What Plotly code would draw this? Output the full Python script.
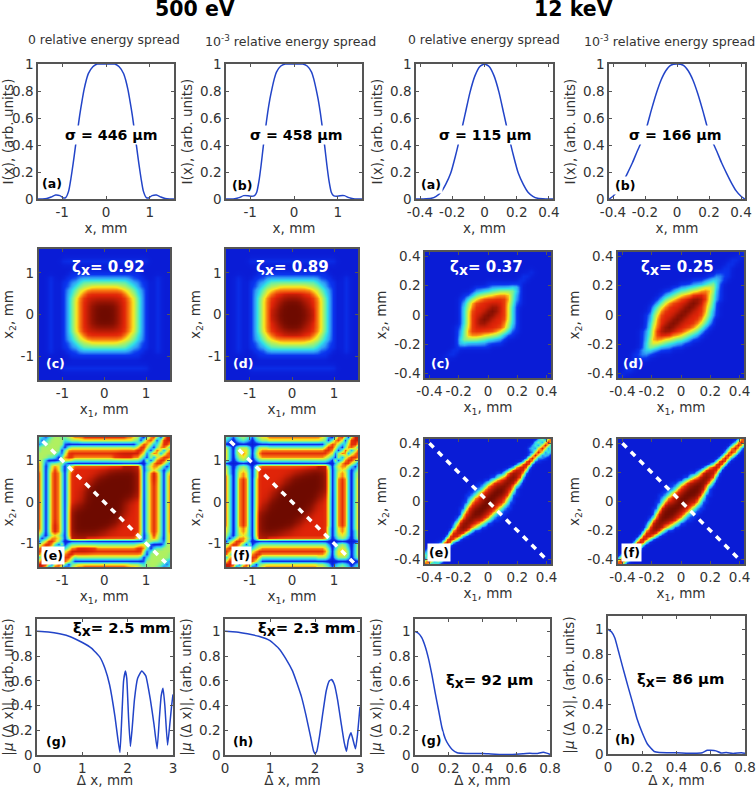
import numpy as np
import plotly.graph_objects as go

W, H = 756, 788

# --- line panels ---
A500_X = [-1.55, -1.45, -1.35, -1.25, -1.15, -1.05, -0.97, -0.92, -0.85, -0.8, -0.75, -0.7, -0.65, -0.6, -0.55, -0.5,
          -0.45, -0.4, -0.3, -0.2, -0.1, 0, 0.1, 0.2, 0.3, 0.4, 0.45, 0.5, 0.55, 0.6, 0.65, 0.7, 0.75, 0.8, 0.85,
          0.92, 0.97, 1.05, 1.15, 1.25, 1.35, 1.45, 1.55]
A500_Y = [0, 0, 0.003, 0.015, 0.03, 0.025, 0.008, 0.01, 0.06, 0.15, 0.26, 0.38, 0.5, 0.62, 0.72, 0.81,
          0.88, 0.93, 0.98, 1, 1, 1, 1, 1, 0.98, 0.93, 0.88, 0.81, 0.72, 0.62, 0.5, 0.38, 0.26, 0.15, 0.06,
          0.01, 0.008, 0.025, 0.03, 0.015, 0.003, 0, 0]
B500_X = [-1.55, -1.45, -1.35, -1.25, -1.15, -1.05, -0.97, -0.9, -0.85, -0.8, -0.75, -0.7, -0.65, -0.6, -0.55, -0.5,
          -0.45, -0.4, -0.3, -0.2, -0.1, 0, 0.1, 0.2, 0.3, 0.4, 0.45, 0.5, 0.55, 0.6, 0.65, 0.7, 0.75, 0.8, 0.85,
          0.9, 0.97, 1.05, 1.15, 1.25, 1.35, 1.45, 1.55]
B500_Y = [0, 0, 0.002, 0.01, 0.025, 0.025, 0.02, 0.025, 0.05, 0.13, 0.25, 0.39, 0.52, 0.64, 0.74, 0.82,
          0.89, 0.94, 0.985, 1, 1, 1, 1, 1, 0.985, 0.94, 0.89, 0.82, 0.74, 0.64, 0.52, 0.39, 0.25, 0.13, 0.05,
          0.025, 0.02, 0.025, 0.025, 0.01, 0.002, 0, 0]
A12_X = [-0.425, -0.38, -0.33, -0.3, -0.27, -0.24, -0.21, -0.18, -0.15, -0.12, -0.09, -0.06, -0.03, 0,
         0.03, 0.06, 0.09, 0.12, 0.15, 0.18, 0.21, 0.24, 0.27, 0.3, 0.33, 0.38, 0.425]
A12_Y = [0, 0, 0.005, 0.02, 0.05, 0.11, 0.19, 0.32, 0.47, 0.63, 0.79, 0.91, 0.98, 1,
         0.98, 0.91, 0.79, 0.63, 0.47, 0.32, 0.19, 0.11, 0.05, 0.02, 0.005, 0, 0]
B12_X = [-0.424, -0.4, -0.37, -0.34, -0.31, -0.278, -0.25, -0.22, -0.19, -0.16, -0.13, -0.1, -0.07, -0.04, 0,
         0.04, 0.07, 0.1, 0.13, 0.16, 0.19, 0.22, 0.25, 0.278, 0.31, 0.34, 0.37, 0.4, 0.424]
B12_Y = [0, 0.02, 0.06, 0.12, 0.19, 0.27, 0.35, 0.43, 0.53, 0.66, 0.78, 0.88, 0.95, 0.99, 1,
         0.99, 0.95, 0.88, 0.78, 0.66, 0.53, 0.43, 0.35, 0.27, 0.19, 0.12, 0.06, 0.02, 0]

G500_X = [0, 0.25, 0.5, 0.75, 1, 1.2, 1.39, 1.5, 1.6, 1.72, 1.78, 1.83, 1.87, 1.91, 1.95, 1.98, 2.02, 2.06, 2.1, 2.15,
          2.22, 2.31, 2.4, 2.5, 2.58, 2.65, 2.7, 2.74, 2.78, 2.82, 2.88, 2.93, 2.97, 3]
G500_Y = [1, 0.995, 0.98, 0.955, 0.91, 0.865, 0.79, 0.7, 0.57, 0.31, 0.14, 0.02, 0.3, 0.6, 0.68, 0.62, 0.3, 0.07, 0.22, 0.45,
          0.62, 0.68, 0.64, 0.45, 0.25, 0.05, 0.3, 0.48, 0.54, 0.4, 0.08, 0.25, 0.4, 0.49]
H500_X = [0, 0.25, 0.5, 0.75, 1, 1.2, 1.35, 1.5, 1.6, 1.7, 1.8, 1.9, 1.97, 2, 2.04, 2.1, 2.17, 2.25, 2.32, 2.37, 2.43,
          2.5, 2.58, 2.65, 2.7, 2.74, 2.8, 2.84, 2.9, 2.94, 3]
H500_Y = [1, 0.995, 0.98, 0.96, 0.925, 0.86, 0.78, 0.68, 0.58, 0.47, 0.32, 0.15, 0.03, 0.01, 0.03, 0.15, 0.33, 0.52, 0.6, 0.61, 0.57,
          0.45, 0.26, 0.1, 0.03, 0.12, 0.18, 0.13, 0.05, 0.15, 0.39]
G12_X = [0, 0.02, 0.04, 0.06, 0.08, 0.1, 0.12, 0.14, 0.16, 0.18, 0.2, 0.22, 0.25, 0.3, 0.4, 0.45, 0.5, 0.55, 0.6, 0.64,
         0.68, 0.72, 0.76, 0.78, 0.8]
G12_Y = [1, 0.985, 0.95, 0.88, 0.78, 0.65, 0.5, 0.36, 0.22, 0.13, 0.08, 0.045, 0.018, 0.012, 0.012, 0.008, 0.005, 0.004, 0.006, 0.01,
         0.014, 0.012, 0.022, 0.015, 0.005]
H12_X = [0, 0.02, 0.04, 0.06, 0.085, 0.115, 0.144, 0.17, 0.2, 0.23, 0.27, 0.3, 0.4, 0.5, 0.55, 0.58, 0.6, 0.63, 0.66, 0.69,
         0.73, 0.78, 0.8]
H12_Y = [1, 0.98, 0.93, 0.83, 0.7, 0.55, 0.41, 0.28, 0.17, 0.08, 0.02, 0.012, 0.01, 0.006, 0.01, 0.03, 0.03, 0.025, 0.008, 0.012,
         0.005, 0.01, 0.006]

# --- maps, one digit per cell read by eye (0 = blue ... 9 = dark red) ---
# 500 eV (c), (d): upper left quarter
C500 = ["00000000000000000", "00000000000000000", "00000000000000000",
        "00000011111111111", "00000000000000000", "00000000000000000",
        "00000000111111111", "00010001112222222", "00010011223444444",
        "00010011234556666", "00010012346677777", "00010012356788888",
        "00010012467888888", "00010012467889999", "00010012467889999",
        "00010012467889999", "00010012467889999"]
D500 = ["00000000000000000", "00000000000000000", "00000000000000000",
        "00000011111111111", "00000000000000000", "00000000000000000",
        "00000000111111111", "00010001112222222", "00010011223444444",
        "00010011234556666", "00010012346677777", "00010012356788888",
        "00010012467888999", "00010012467889999", "00010012467889999",
        "00010012467899999", "00010012467899999"]
# 500 eV (e), (f): upper half, the rest follows by turning it half round
E500 = ["43134554456 77788888888888887765 2047850689",
        "41345555345 55666666666666666654 0478605898",
        "13455555100 00000000000000000003 6875236886",
        "45555553045 55555555555555555546 8863047862",
        "45555550477 77777777777777777778 8740486158",
        "55555531588 88888888888888999999 7615871578",
        "55544304788 77777777777788888877 5306157887",
        "55200015665 44444444444444444444 3060478864",
        "75134455200 00000000000000000000 0025788640",
        "75036763056 88888888888888899999 5046775304",
        "75046863057 88888888888999999999 6035653035",
        "85047874068 88888888899999999999 6047974057",
        "85047874068 88888889999999999999 6047974058",
        "85047874068 88888899999999999999 6047974058",
        "85047874068 88888999999999999999 6047874058",
        "85047874068 88889999999999999999 6047874058",
        "85047874068 88889999999999999999 6047874058",
        "85047874068 88899999999999999999 6047874058",
        "85047874068 88899999999999999999 6047874058",
        "85047874068 88899999999999999988 6047874058",
        "85047874068 88899999999999998888 6047874058"]
F500 = ["43134543145 66777777777777777765 2047850689",
        "32023432034 55666666666666666654 0478605898",
        "00000000000 00000000000000000003 6875236886",
        "53035553035 55444444444444444446 8863047862",
        "63046664046 77777777777777777778 8740486158",
        "63046764057 88888888888888888888 7615871578",
        "63035653046 77777777777777777776 5306157887",
        "63024542024 44444444444444444444 3060478864",
        "00000000000 00000000000000000000 0025788640",
        "53024542047 88888888888888888999 5046775304",
        "63035653058 88888888888888999999 6035653035",
        "63036763058 88888888888999999999 6036763046",
        "74036763058 88888888899999999999 6036763046",
        "74037873068 88888888999999999999 6037873047",
        "74037873068 88888889999999999999 6037873047",
        "74037873068 88888899999999999999 6037873047",
        "74037873068 88888999999999999999 6037873047",
        "74037873068 88889999999999999999 6037873047",
        "74037873068 88899999999999999988 6037873047",
        "74037873068 88899999999999999988 6037873047",
        "74037873068 88999999999999999888 6037873047"]
# 12 keV (c), (d): upper half
C12 = ["000000000000000000000000000000000", "000000000000000000000000000000000",
       "000000000000000000000000000000000", "000000000000000000000000000000000",
       "000000000000000000000000000000000", "000000000000000000000000000100000",
       "000000000000000000000000011000000", "000000000000000000000000110000000",
       "00000000 000000001111111110 0000000", "00000000 000001111222223310 0000000",
       "00000000 000012233445555310 0000000", "00000000 001124556677774210 0000000",
       "00000000 011356788888874210 0000000", "00000000 012578888888864110 0000000",
       "00000000 013578888998863100 0000000", "00000000 013688889998863100 0000000",
       "00000000 013688899988863100 0000000"]
D12 = ["000000000000000000000000000000001", "000000000000000000000000000000010",
       "000000000000000000000000000001100", "000000000000000000000000000011000",
       "000000000000000000000000000110000", "0000000000000000000000000 1111 0000",
       "00000000000000000000000 112211 0000", "0000000000000000000 111223321 00000",
       "0000000000000000 11122234531 000000", "00000000000000 1122334566531 000000",
       "000000000000 112344566777521 000000", "00000000000 1234567788886421 000000",
       "0000000000 12456788899986421 000000", "000000000 12467888899987631 0000000",
       "00000000 124678888999887531 0000000", "00000000 135788889998887421 0000000",
       "0000000 1246888899988886421 0000000"]
# 12 keV (e), (f): upper half
E12 = ["000000000000000000000000000000000000 25168",
       "00000000000000000000000000000000000 351696",
       "0000000000000000000000000000000000 2416961",
       "000000000000000000000000000000000 23169615",
       "000000000000000000000000000000000 11696142",
       "000000000000000000000000000000000 16961320",
       "00000000000000000000000000000000 179612100",
       "0000000000000000000000000000000 2897110000",
       "00000000000000000000000000000 158981000000",
       "000000000000000000000000000 12789820000000",
       "0000000000000000000000000 1258898500000000",
       "00000000000000000000000 113789987100000000",
       "000000000000000000000 11367899982000000000",
       "0000000000000000000 1135788999851000000000",
       "00000000000000000 11246888999872 0000000000",
       "0000000000000000 112478899998731 0000000000",
       "000000000000000 112478899998861 00000000000",
       "00000000000000 1125788999998731 00000000000",
       "0000000000000 11247889999988511 00000000000",
       "0000000000000 1247889999988631 000000000000",
       "000000000000 11478899999887411 000000000000"]
F12 = ["00000000000000000000000000000000000000 278",
       "0000000000000000000000000000000000000 2797",
       "000000000000000000000000000000000000 27972",
       "00000000000000000000000000000000000 279720",
       "0000000000000000000000000000000000 2797200",
       "000000000000000000000000000000000 27972000",
       "00000000000000000000000000000000 279720000",
       "0000000000000000000000000000000 3898200000",
       "00000000000000000000000000000 148983000000",
       "000000000000000000000000000 13789830000000",
       "0000000000000000000000000 1258898500000000",
       "00000000000000000000000 113689987100000000",
       "000000000000000000000 11367899982000000000",
       "0000000000000000000 1135788999851000000000",
       "00000000000000000 11246889999872 0000000000",
       "0000000000000000 112478899999731 0000000000",
       "000000000000000 112478899999861 00000000000",
       "00000000000000 1125788999999731 00000000000",
       "0000000000000 11247889999998511 00000000000",
       "0000000000000 1247889999998631 000000000000",
       "000000000000 11478899999887411 000000000000"]

DIAG_500 = [-1.47, 1.47]
DIAG_12 = [-0.4, 0.4]

JET = [[0 / 9, "#0a1cd6"], [1 / 9, "#0a34ee"], [2 / 9, "#30a0f8"], [3 / 9, "#30e0e8"], [4 / 9, "#70f0a0"],
       [5 / 9, "#b0f060"], [6 / 9, "#f8e820"], [7 / 9, "#f87810"], [8 / 9, "#e02408"], [9 / 9, "#6e0a00"]]

LINE_BLUE = "#2244c8"
AXIS_GREY = "#555555"
TEXT = "#333333"
FONT = "DejaVu Sans"

TICK_500 = ([-1, 0, 1], ["-1", "0", "1"])
TICK_12 = ([-0.4, -0.2, 0, 0.2, 0.4], ["-0.4", "-0.2", "0", "0.2", "0.4"])
TICK_Y = ([0, 0.2, 0.4, 0.6, 0.8, 1], ["0", "0.2", "0.4", "0.6", "0.8", "1"])
TICK_D500 = ([0, 1, 2, 3], ["0", "1", "2", "3"])
TICK_D12 = ([0, 0.2, 0.4, 0.6, 0.8], ["0", "0.2", "0.4", "0.6", "0.8"])

fig = go.Figure()
axis_count = 0
notes = []


def digits(rows):
    return np.array([[int(c) for c in r.replace(" ", "")] for r in rows]) / 9


def blur(z, w=4):
    # light 1-w-1 pass along both directions
    p = np.pad(z, 1, mode="edge")
    p = (p[:-2, :] + w * p[1:-1, :] + p[2:, :]) / (w + 2)
    return (p[:, :-2] + w * p[:, 1:-1] + p[:, 2:]) / (w + 2)


def soften(z, passes, w):
    # the cell digits are coarse, so ease the steps; the red-to-dark part gets extra passes
    z = blur(z, w)
    red = 8 / 9
    hi = np.maximum(z, red)
    for _ in range(passes):
        hi = blur(hi)
    return np.minimum(z, red) + hi - red


def from_quarter(rows):
    q = digits(rows)
    top = np.hstack([q, q[:, -2::-1]])
    return soften(np.vstack([top, top[-2::-1]]), 3, 4)


def from_half(rows, passes=4, w=4):
    top = digits(rows)
    return soften(np.vstack([top, top[-2::-1, ::-1]]), passes, w)


def add_axes(box, xrange, yrange, xticks, yticks, xtitle, ytitle, xstand=3):
    # box is left, top, right, bottom in page pixels
    global axis_count
    axis_count += 1
    n = axis_count
    common = dict(showline=True, linecolor=AXIS_GREY, linewidth=1.5, mirror="ticks", ticks="inside", ticklen=3,
                  tickcolor=AXIS_GREY, tickwidth=1, showgrid=False, zeroline=False,
                  tickfont=dict(family=FONT, size=13.5, color=TEXT))
    title_font = dict(family=FONT, size=13.5, color=TEXT)
    fig.update_layout(**{
        f"xaxis{n}": dict(common, domain=[box[0] / W, box[2] / W], range=xrange, anchor=f"y{n}",
                          tickvals=xticks[0], ticktext=xticks[1],
                          title=dict(text=xtitle, font=title_font, standoff=xstand)),
        f"yaxis{n}": dict(common, domain=[1 - box[3] / H, 1 - box[1] / H], range=yrange, anchor=f"x{n}",
                          tickvals=yticks[0], ticktext=yticks[1],
                          title=dict(text=ytitle, font=title_font, standoff=4)),
    })
    return f"x{n}", f"y{n}"


def note(x, y, text, size=14.2, color="black", bold=True, bg=None):
    notes.append(dict(x=x / W, y=1 - y / H, xref="paper", yref="paper", text=f"<b>{text}</b>" if bold else text,
                      showarrow=False, xanchor="center", yanchor="middle", bgcolor=bg,
                      font=dict(family=FONT, size=size, color=color), borderpad=1))


def line_panel(box, xs, ys, xrange, yrange, xticks, xtitle, ytitle, smoothing=0.6, xstand=3):
    xa, ya = add_axes(box, xrange, yrange, xticks, TICK_Y, xtitle, ytitle, xstand)
    fig.add_trace(go.Scatter(x=xs, y=ys, mode="lines", xaxis=xa, yaxis=ya, showlegend=False,
                             line=dict(color=LINE_BLUE, width=1.5, shape="spline", smoothing=smoothing)))


def map_panel(box, z, lim, ticks, diag=None):
    xa, ya = add_axes(box, [-lim, lim], [-lim, lim], ticks, ticks, "x<sub>1</sub>, mm", "x<sub>2</sub>, mm", 1)
    axis = np.linspace(-lim, lim, z.shape[0])
    fig.add_trace(go.Heatmap(z=z[::-1], x=axis, y=axis, xaxis=xa, yaxis=ya, zmin=0, zmax=1, colorscale=JET,
                             zsmooth="best", showscale=False, hoverinfo="skip"))
    if diag:
        fig.add_trace(go.Scatter(x=diag, y=diag[::-1], mode="lines", xaxis=xa, yaxis=ya, showlegend=False,
                                 line=dict(color="white", width=3.5, dash="6px,6px")))


IX = "I(x), (arb. units)"
MU = "|<i>μ</i> (Δ x)|, (arb. units)"

# row 1
line_panel((38, 64, 174, 199), A500_X, A500_Y, [-1.55, 1.55], [0, 1], TICK_500, "x, mm", IX)
line_panel((226, 64, 362, 199), B500_X, B500_Y, [-1.55, 1.55], [0, 1], TICK_500, "x, mm", IX)
line_panel((416, 64, 553, 199), A12_X, A12_Y, [-0.425, 0.425], [0, 1], TICK_12, "x, mm", IX)
line_panel((609, 64, 745, 199), B12_X, B12_Y, [-0.425, 0.425], [0, 1], TICK_12, "x, mm", IX)

# row 2
map_panel((38.5, 249, 170, 380), from_quarter(C500), 1.57, TICK_500)
map_panel((226, 249, 358, 380), from_quarter(D500), 1.57, TICK_500)
map_panel((425, 252, 551, 378), from_half(C12, 1), 0.43, TICK_12)
map_panel((618, 252, 744, 378), from_half(D12, 1), 0.43, TICK_12)

# row 3
map_panel((38.5, 437, 170, 567), from_half(E500, 6, 12), 1.57, TICK_500, DIAG_500)
map_panel((226, 437, 358, 567), from_half(F500, 6, 12), 1.57, TICK_500, DIAG_500)
map_panel((425, 439, 551, 564), from_half(E12, 2, 10), 0.43, TICK_12, DIAG_12)
map_panel((618, 439, 744, 564), from_half(F12, 2, 10), 0.43, TICK_12, DIAG_12)

# row 4
line_panel((37, 619, 173, 755), G500_X, G500_Y, [0, 3], [0, 1.1], TICK_D500, "Δ x, mm", MU, 0.4, 5)
line_panel((225, 619, 360, 755), H500_X, H500_Y, [0, 3], [0, 1.1], TICK_D500, "Δ x, mm", MU, 0.4, 5)
line_panel((415, 619, 550, 755), G12_X, G12_Y, [0, 0.8], [0, 1.1], TICK_D12, "Δ x, mm", MU, 0.4, 5)
line_panel((608, 616, 745, 754), H12_X, H12_Y, [0, 0.8], [0, 1.106], TICK_D12, "Δ x, mm", MU, 0.4, 5)

# headings
note(195, 8.5, "500 eV", size=20.5)
note(573, 8.5, "12 keV", size=20.5)
note(104, 39, "0 relative energy spread", size=12.4, color=TEXT, bold=False)
note(290, 41, "10<sup>-3</sup> relative energy spread", size=12.6, color=TEXT, bold=False)
note(484, 39, "0 relative energy spread", size=12.4, color=TEXT, bold=False)
note(669, 41, "10<sup>-3</sup> relative energy spread", size=12.6, color=TEXT, bold=False)

SUBX = '<sub><span style="font-size:14px">x</span></sub>'

# values on the panels
for x, txt in [(111, "σ = 446 µm"), (296, "σ = 458 µm"), (485, "σ = 115 µm"), (675, "σ = 166 µm")]:
    note(x, 135, txt, bg="white")
for x, txt in [(108, "= 0.92"), (292, "= 0.89"), (486, "= 0.37"), (677, "= 0.25")]:
    note(x, 268, "ζ" + SUBX + txt, size=15, color="white")
for x, y, txt, bg in [(122, 629, "= 2.5 mm", None), (307, 629, "= 2.3 mm", None),
                      (489, 681, "= 92 µm", "white"), (680, 680, "= 86 µm", "white")]:
    note(x, y, "ξ" + SUBX + txt, size=14.8, bg=bg)

# panel letters
for x, y, txt in [(52, 183, "(a)"), (242, 185, "(b)"), (431, 184, "(a)"), (625, 185, "(b)"),
                  (53, 555, "(e)"), (241, 555, "(f)"), (439, 552, "(e)"), (631, 552, "(f)"),
                  (56, 741, "(g)"), (243, 741, "(h)"), (431, 740, "(g)"), (625, 739, "(h)")]:
    note(x, y, txt, size=12.5, bg="white")
for x, txt in [(55, "(c)"), (243, "(d)"), (440, "(c)"), (633, "(d)")]:
    note(x, 363, txt, size=12.5, color="white")

fig.update_layout(width=W, height=H, margin=dict(l=0, r=0, t=0, b=0, autoexpand=False), paper_bgcolor="white",
                  plot_bgcolor="white", showlegend=False, annotations=notes)

fig.write_html("out.html", config={"displayModeBar": False}, post_script="document.body.style.margin='0';")
